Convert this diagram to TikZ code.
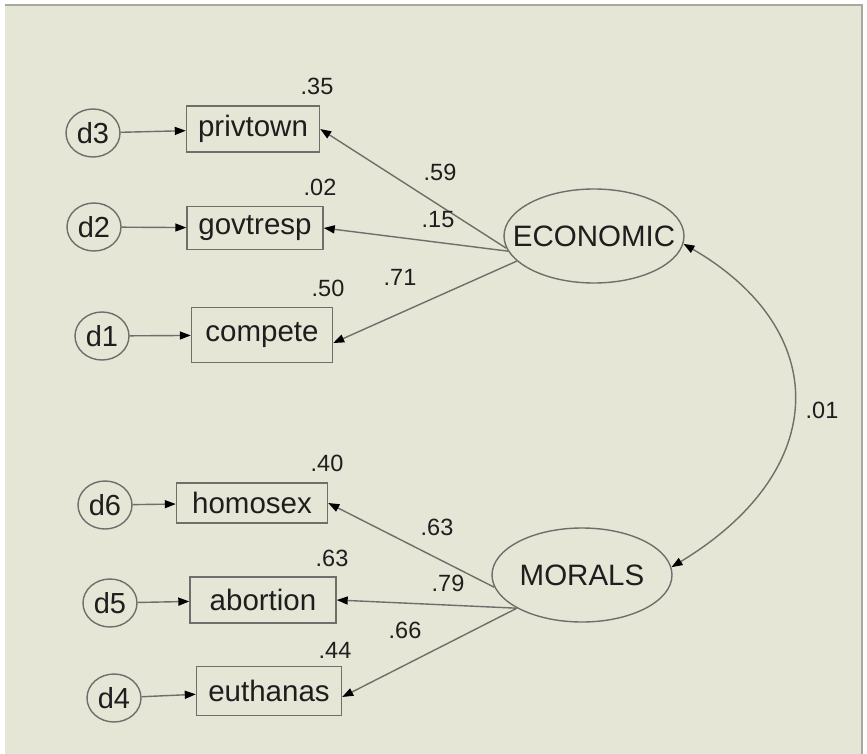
\documentclass[tikz,border=0pt]{standalone}
\usepackage{fontspec}
\setmainfont{Liberation Sans}
\usetikzlibrary{arrows.meta,shapes.geometric}
\definecolor{bgc}{HTML}{E5E6D6}
\definecolor{linec}{HTML}{6E6E6A}
\definecolor{framec}{HTML}{A8A99C}
\definecolor{txtc}{HTML}{1E1E1E}
\newcommand{\zb}[1]{\makebox[0pt]{#1}}
\tikzset{
  obsbox/.style={draw=linec, line width=1.4pt, rectangle, inner sep=0pt, text=txtc,
    font=\fontsize{29.5}{31}\selectfont},
  errnode/.style={draw=linec, line width=1.4pt, ellipse, inner sep=0pt,
    minimum width=54pt, minimum height=48pt, text=txtc, font=\fontsize{29}{31}\selectfont},
  latent/.style={draw=linec, line width=1.4pt, ellipse, inner sep=0pt,
    minimum width=180pt, minimum height=94pt, text=txtc, font=\fontsize{29.5}{31}\selectfont},
  numlab/.style={text=txtc, inner sep=0pt, font=\fontsize{23.5}{25}\selectfont},
  path1/.style={draw=linec, line width=1.4pt, -{Triangle[length=11pt,width=8pt,color=black]}},
  path2/.style={draw=linec, line width=1.4pt, {Triangle[length=11pt,width=8pt,color=black]}-{Triangle[length=11pt,width=8pt,color=black]}}
}
\begin{document}
\begin{tikzpicture}[x=1pt,y=-1pt]
\useasboundingbox (0,0) rectangle (867,754);
\fill[white] (0,0) rectangle (867,754);
\fill[bgc] (5,5) rectangle (862,754);
\draw[framec, line width=2.5pt] (5,5) -- (862,5) -- (862,754);

% observed variables
\node[obsbox, minimum width=133pt, minimum height=46pt] (privtown) at (253,129) {\zb{privtown}};
\node[obsbox, minimum width=136pt, minimum height=43pt] (govtresp) at (255,228) {\zb{govtresp}};
\node[obsbox, minimum width=141pt, minimum height=55pt] (compete) at (262,335) {\zb{compete}};
\node[obsbox, minimum width=151pt, minimum height=40pt] (homosex) at (252,503) {\zb{homosex}};
\node[obsbox, minimum width=146pt, minimum height=46pt] (abortion) at (263,600) {\zb{abortion}};
\node[obsbox, minimum width=145pt, minimum height=49pt] (euthanas) at (269,691) {\zb{euthanas}};

% error terms
\node[errnode] (d3) at (93,133) {\zb{d3}};
\node[errnode] (d2) at (94,227) {\zb{d2}};
\node[errnode] (d1) at (102,336) {\zb{d1}};
\node[errnode] (d6) at (105,505) {\zb{d6}};
\node[errnode] (d5) at (110,603) {\zb{d5}};
\node[errnode] (d4) at (114,698) {\zb{d4}};

% latent variables
\node[latent] (econ) at (594,236) {\zb{ECONOMIC}};
\node[latent] (mor) at (582,575) {\zb{MORALS}};

% error paths
\draw[path1] (d3) -- (privtown);
\draw[path1] (d2) -- (govtresp);
\draw[path1] (d1) -- (compete);
\draw[path1] (d6) -- (homosex);
\draw[path1] (d5) -- (abortion);
\draw[path1] (d4) -- (euthanas);

% loadings
\draw[path1] (econ.188) -- (privtown.east);
\draw[path1] (econ.190) -- (govtresp.east);
\draw[path1] (econ.198) -- ([yshift=-8pt]compete.east);
\draw[path1] (mor.188) -- (homosex.east);
\draw[path1] (mor.207) -- (abortion.east);
\draw[path1] (mor.207) -- ([yshift=-6pt]euthanas.east);

% covariance
\draw[path2] (econ.-5) .. controls (832,330) and (832,470) .. (mor.5);

% numbers
\node[numlab] (r35) at (317,86) {.35};
\node[numlab] (r02) at (320,187) {.02};
\node[numlab] (r50) at (328,288) {.50};
\node[numlab] (r40) at (327,463) {.40};
\node[numlab] (r63) at (332,558) {.63};
\node[numlab] (r44) at (335,650) {.44};
\node[numlab] (l59) at (440,172) {.59};
\node[numlab] (l15) at (438,220) {.15};
\node[numlab] (l71) at (400,277) {.71};
\node[numlab] (l63) at (437,527) {.63};
\node[numlab] (l79) at (448,583) {.79};
\node[numlab] (l66) at (405,630) {.66};
\node[numlab] (c01) at (822,410) {.01};
\end{tikzpicture}
\end{document}
